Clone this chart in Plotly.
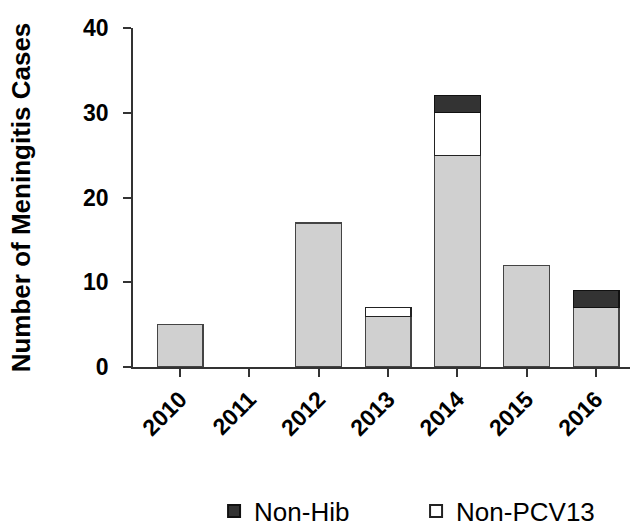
import plotly.graph_objects as go

years = ["2010", "2011", "2012", "2013", "2014", "2015", "2016"]
base_cases = [5, 0, 17, 6, 25, 12, 7]
non_pcv13 = [0, 0, 0, 1, 5, 0, 0]
non_hib = [0, 0, 0, 0, 2, 0, 2]

FONT = "Liberation Sans, Arial, sans-serif"


def nz(vals):
    return [v if v else None for v in vals]


fig = go.Figure()
fig.add_trace(go.Bar(x=years, y=nz(base_cases), name="Cases", showlegend=False,
                     marker=dict(color="#d0d0d0", line=dict(color="#444444", width=1.2)),
                     width=0.66))
fig.add_trace(go.Bar(x=years, y=nz(non_pcv13), name="Non-PCV13",
                     marker=dict(color="#ffffff", line=dict(color="#222222", width=1.2)),
                     width=0.66))
fig.add_trace(go.Bar(x=years, y=nz(non_hib), name="Non-Hib",
                     marker=dict(color="#333333", line=dict(color="#111111", width=1.2)),
                     width=0.66))

fig.update_layout(
    barmode="stack",
    width=639, height=529,
    margin=dict(l=133, r=9, t=28, b=162),
    plot_bgcolor="white", paper_bgcolor="white",
    font=dict(family=FONT, color="black"),
    showlegend=True,
    legend=dict(orientation="h", xref="container", yref="container",
                x=0.335, y=0.034, xanchor="left", yanchor="middle",
                traceorder="reversed", font=dict(size=26, family=FONT),
                entrywidth=157, entrywidthmode="pixels", itemsizing="constant"),
)
fig.update_xaxes(
    range=[-0.68, 6.49], showline=True, linecolor="#333333", linewidth=1.5,
    ticks="outside", ticklen=8, tickwidth=1.5, tickcolor="#333333",
    tickangle=-45, tickfont=dict(size=23, family=FONT, weight="bold"),
    showgrid=False, zeroline=False, automargin=False,
)
fig.update_yaxes(
    range=[0, 40], tickvals=[0, 10, 20, 30, 40], showline=True, linecolor="#333333", linewidth=1.5,
    ticks="outside", ticklen=8, tickwidth=1.5, tickcolor="#333333", ticklabelstandoff=10,
    tickfont=dict(size=23, family=FONT, weight="bold"),
    title=dict(text="Number of Meningitis Cases", font=dict(size=26, family=FONT, weight="bold"), standoff=45),
    showgrid=False, zeroline=False, automargin=False,
)

fig.write_html("out.html", config={"displayModeBar": False})

with open("out.html", encoding="utf-8") as f:
    html = f.read()
html = html.replace("<body>", '<body style="margin:0;padding:0;overflow:hidden">', 1)
with open("out.html", "w", encoding="utf-8") as f:
    f.write(html)
